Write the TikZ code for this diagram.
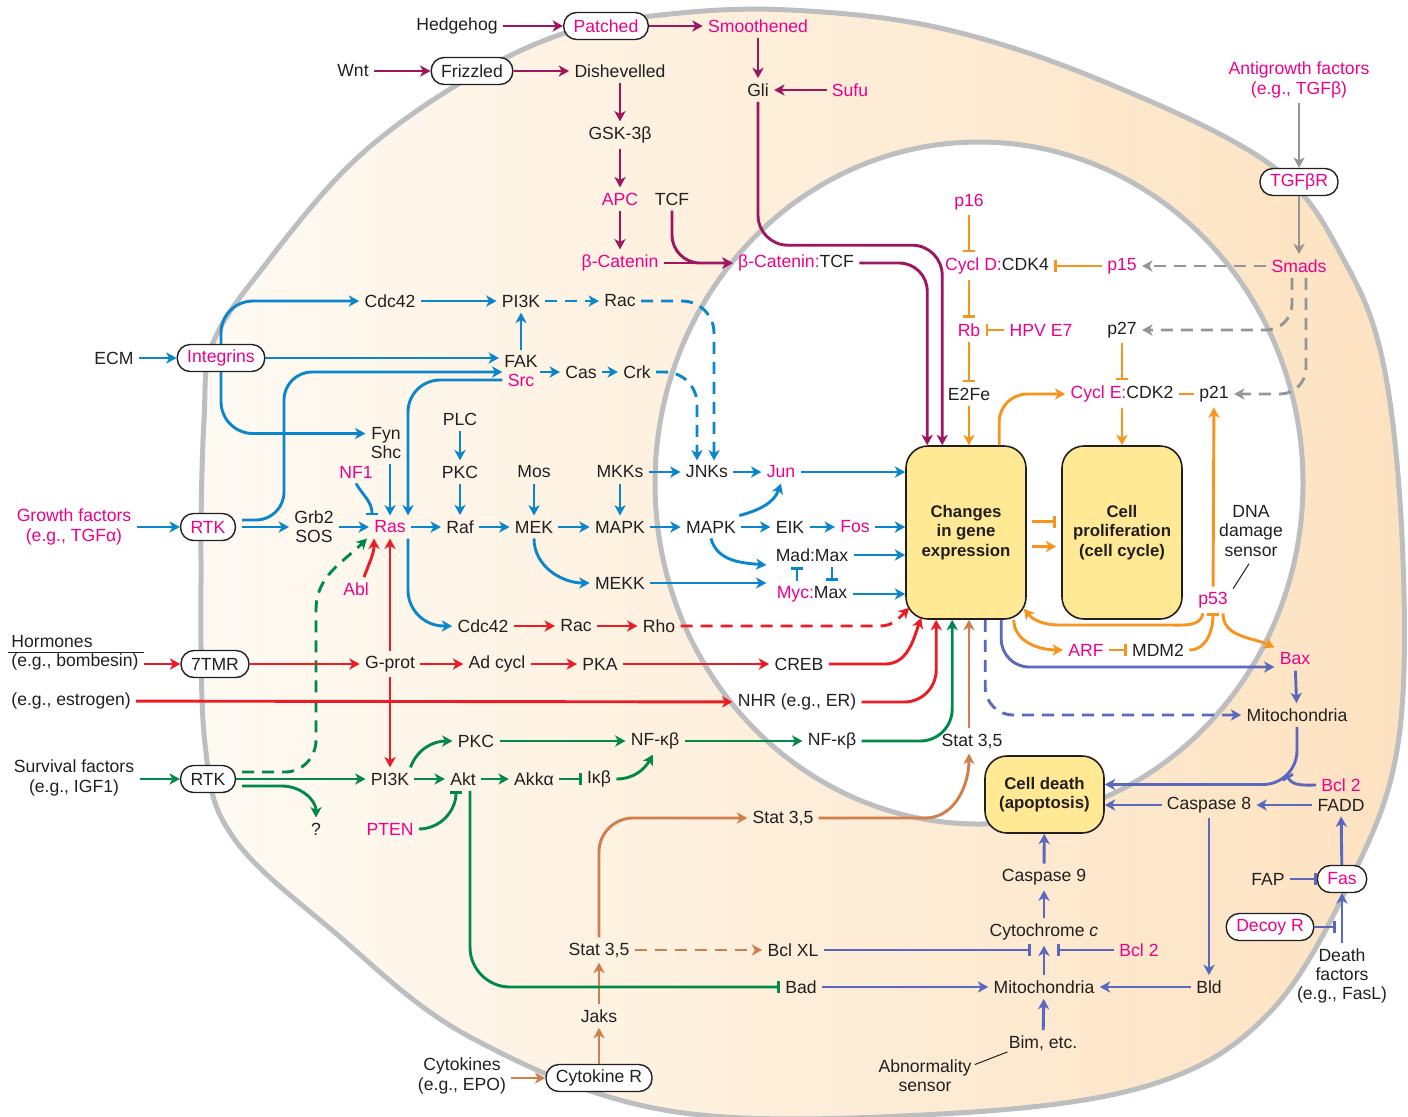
\documentclass[tikz,border=0pt]{standalone}
\usepackage{fontspec}
\setmainfont{Liberation Sans}
\usetikzlibrary{arrows.meta,calc}
\definecolor{txt}{HTML}{231F20}
\definecolor{mag}{HTML}{EC008C}
\definecolor{pur}{HTML}{9E1560}
\definecolor{blu}{HTML}{0A86CC}
\definecolor{redc}{HTML}{ED1C24}
\definecolor{grn}{HTML}{00894A}
\definecolor{org}{HTML}{F7941D}
\definecolor{gry}{HTML}{939598}
\definecolor{brn}{HTML}{D27E4C}
\definecolor{vio}{HTML}{5A68BE}
\definecolor{cellgray}{HTML}{BCBEC0}
\definecolor{bgL}{HTML}{FEFAF3}
\definecolor{bgR}{HTML}{FDE2C0}
\definecolor{yelbox}{HTML}{FFE994}
\newcommand\lblfont{\fontsize{8.8}{9.6}\selectfont}
\newcommand\boxfont{\fontsize{8.4}{9.6}\selectfont\bfseries}
\begin{document}
\begin{tikzpicture}[x=0.5pt,y=-0.5pt,
  >={Stealth[length=5.2pt,width=5.6pt,inset=1.5pt]},
  lbl/.style={font=\lblfont,text=txt,inner sep=2.5pt},
  mg/.style={lbl,text=mag},
  pill/.style={draw=txt,line width=0.7pt,fill=white,rounded corners=6.5pt,minimum height=13.5pt,inner xsep=5pt,inner ysep=1pt},
  ybox/.style={draw=txt,line width=0.8pt,fill=yelbox,rounded corners=11pt,align=center,font=\boxfont,text=txt,inner sep=0pt},
  inh/.style={-{Bar[width=6pt,line width=1.4pt]}},
  dsh/.style={dash pattern=on 6pt off 4pt}]
\useasboundingbox (0,0) rectangle (1408,1116);
% cell and nucleus
\draw[cellgray,line width=2.5pt,left color=bgL,right color=bgR] plot[smooth cycle,tension=0.6] coordinates {(205,744) (201,560) (204,420) (213,343) (265,265) (355,160) (460,83) (565,33) (670,14) (790,10) (940,28) (1100,80) (1271,165) (1345,262) (1385,372) (1403,560) (1398,744) (1355,871) (1271,1011) (1150,1085) (940,1114) (670,1111) (470,1037) (333,931) (233,837)};
\draw[cellgray,line width=2.5pt,fill=white] (979,483) ellipse [x radius=324,y radius=341];

% ---------- nodes ----------
\node[lbl] (hedge) at (457,26) {Hedgehog};
\node[mg,pill] (patched) at (606,26) {Patched};
\node[mg] (smooth) at (758,26) {Smoothened};
\node[lbl] (wnt) at (353,71) {Wnt};
\node[lbl,pill] (friz) at (472,71) {Frizzled};
\node[lbl] (dish) at (620,71) {Dishevelled};
\node[lbl] (gli) at (758,90) {Gli};
\node[mg] (sufu) at (850,90) {Sufu};
\node[lbl] (gsk) at (620,135) {GSK-3β};
\node[mg] (apc) at (620,199) {APC};
\node[lbl] (tcf) at (672,199) {TCF};
\node[mg] (bcat) at (620,263) {β-Catenin};
\node[lbl] (bcattcf) at (796,263) {\textcolor{mag}{β-Catenin:}TCF};

\node[mg,align=center] (anti) at (1299,80) {Antigrowth factors\\(e.g., TGFβ)};
\node[mg,pill] (tgfbr) at (1299,182) {TGFβR};
\node[mg] (smads) at (1299,266) {Smads};
\node[mg] (p16) at (969,202) {p16};
\node[lbl] (cycd) at (997,266) {\textcolor{mag}{Cycl D:}CDK4};
\node[mg] (p15) at (1122,266) {p15};
\node[mg] (rb) at (969,330) {Rb};
\node[mg] (hpv) at (1041,330) {HPV E7};
\node[lbl] (p27) at (1122,330) {p27};
\node[lbl] (e2fe) at (969,394) {E2Fe};
\node[lbl] (cyce) at (1122,394) {\textcolor{mag}{Cycl E:}CDK2};
\node[lbl] (p21) at (1214,394) {p21};

\node[ybox,minimum width=60pt,minimum height=86.5pt] (chg) at (966,532.5) {Changes\\in gene\\expression};
\node[ybox,minimum width=60pt,minimum height=86.5pt] (cpro) at (1122,532.5) {Cell\\proliferation\\(cell cycle)};
\node[lbl,align=center] (dna) at (1251,531) {DNA\\damage\\sensor};
\node[mg] (p53) at (1213,600) {p53};
\node[mg] (arf) at (1086,650) {ARF};
\node[lbl] (mdm2) at (1158,650) {MDM2};
\node[mg] (bax) at (1295,659) {Bax};
\node[lbl] (mito1) at (1297,715) {Mitochondria};

\node[ybox,minimum width=59.5pt,minimum height=38.5pt] (cdeath) at (1044.5,794.5) {Cell death\\(apoptosis)};
\node[mg] (bcl2a) at (1341,785) {Bcl 2};
\node[lbl] (casp8) at (1209,805) {Caspase 8};
\node[lbl] (fadd) at (1341,805) {FADD};
\node[lbl] (casp9) at (1044,877) {Caspase 9};
\node[lbl] (fap) at (1268,879) {FAP};
\node[mg,pill] (fas) at (1342,879) {Fas};
\node[mg,pill] (decoy) at (1270,927) {Decoy R};
\node[lbl,align=center] (death) at (1342,976) {Death\\factors\\(e.g., FasL)};
\node[lbl] (cytc) at (1044,932) {Cytochrome \textit{c}};
\node[mg] (bcl2b) at (1139,950) {Bcl 2};
\node[lbl] (mito2) at (1044,987) {Mitochondria};
\node[lbl] (bld) at (1209,987) {Bld};
\node[lbl] (bim) at (1043,1043) {Bim, etc.};
\node[lbl,align=center] (abn) at (925,1076) {Abnormality\\sensor};
\node[lbl] (bclxl) at (793,950) {Bcl XL};
\node[lbl] (bad) at (801,987) {Bad};

\node[lbl,align=center] (cytok) at (462,1076) {Cytokines\\(e.g., EPO)};
\node[lbl,pill] (cytr) at (599,1078) {Cytokine R};
\node[lbl] (jaks) at (599,1016) {Jaks};
\node[lbl] (stat1) at (599,950) {Stat 3,5};
\node[lbl] (stat2) at (783,818) {Stat 3,5};
\node[lbl] (stat3) at (972,741) {Stat 3,5};

\node[lbl,align=center] (surv) at (74,778) {Survival factors\\(e.g., IGF1)};
\node[lbl,pill] (rtk2) at (208,779) {RTK};
\node[lbl] (pi3k2) at (390,779) {PI3K};
\node[lbl] (akt) at (463,779) {Akt};
\node[lbl] (akka) at (534,779) {Akkα};
\node[lbl] (ikb) at (599,779) {Iκβ};
\node[lbl] (q) at (316,829) {?};
\node[mg] (pten) at (390,829) {PTEN};
\node[lbl] (pkc2) at (476,741) {PKC};
\node[lbl] (nfkb1) at (655,741) {NF-κβ};
\node[lbl] (nfkb2) at (832,741) {NF-κβ};

\node[lbl,anchor=west,align=left] (horm) at (6,652.5) {Hormones\\(e.g., bombesin)};
\node[lbl,pill] (tmr) at (215,664) {7TMR};
\node[lbl] (gprot) at (390,664) {G-prot};
\node[lbl] (adcycl) at (497,664) {Ad cycl};
\node[lbl] (pka) at (600,664) {PKA};
\node[lbl] (creb) at (799,664) {CREB};
\node[lbl,anchor=west] (estr) at (6,701) {(e.g., estrogen)};
\node[lbl] (nhr) at (797,702) {NHR (e.g., ER)};
\node[lbl] (cdc42b) at (483,626) {Cdc42};
\node[lbl] (rac2) at (576,626) {Rac};
\node[lbl] (rho) at (659,626) {Rho};
\node[mg] (abl) at (356,589) {Abl};

\node[lbl] (ecm) at (114,358) {ECM};
\node[mg,pill] (integ) at (221,358) {Integrins};
\node[lbl] (cdc42a) at (390,301) {Cdc42};
\node[lbl] (pi3k1) at (521,301) {PI3K};
\node[lbl] (rac1) at (620,301) {Rac};
\node[lbl] (fak) at (521,361) {FAK};
\node[mg] (src) at (521,380) {Src};
\node[lbl] (cas) at (581,372) {Cas};
\node[lbl] (crk) at (637,372) {Crk};
\node[lbl,align=center] (fyn) at (386,443) {Fyn\\Shc};
\node[lbl] (plc) at (460,419) {PLC};
\node[lbl] (pkc1) at (460,472) {PKC};
\node[lbl] (mos) at (534,472) {Mos};
\node[lbl] (mkks) at (620,472) {MKKs};
\node[lbl] (jnks) at (707,472) {JNKs};
\node[mg] (jun) at (781,472) {Jun};
\node[mg] (nf1) at (356,472) {NF1};
\node[mg,align=center] (growth) at (74,527) {Growth factors\\(e.g., TGFα)};
\node[mg,pill] (rtk1) at (208,527) {RTK};
\node[lbl,align=center] (grb2) at (314,527) {Grb2\\SOS};
\node[mg] (ras) at (390,527) {Ras};
\node[lbl] (raf) at (460,527) {Raf};
\node[lbl] (mek) at (534,527) {MEK};
\node[lbl] (mapk1) at (620,527) {MAPK};
\node[lbl] (mapk2) at (711,527) {MAPK};
\node[lbl] (eik) at (790,527) {EIK};
\node[mg] (fos) at (855,527) {Fos};
\node[lbl] (madmax) at (812,555) {Mad:Max};
\node[lbl] (mycmax) at (812,594) {\textcolor{mag}{Myc:}Max};
\node[lbl] (mekk) at (620,583) {MEKK};

\coordinate (bclhit) at (1287,776);
\coordinate (cbl) at (1031,950);
\coordinate (cbr) at (1057,950);
\coordinate (dbar) at (1336,927);

% thin label lines
\draw[txt,line width=0.6pt] ($(horm.west)+(2,0)$) -- (horm.east);
\draw[txt,line width=0.5pt] ($(dna.south)+(-2,2)$) -- ($(p53.north east)+(0,2)$);
\draw[txt,line width=0.5pt] ($(abn.north east)+(-2,10)$) -- ($(bim.south west)+(4,-4)$);

% ---------- connectors ----------
\begin{scope}[line width=1.45pt]
% Hedgehog / Wnt
\draw[pur,->] (hedge) -- (patched);
\draw[pur,->] (patched) -- (smooth);
\draw[pur,->] (wnt) -- (friz);
\draw[pur,->] (friz) -- (dish);
\draw[pur,->] (smooth) -- (gli);
\draw[pur,->] (sufu) -- (gli);
\draw[pur,->] (dish) -- (gsk);
\draw[pur,->] (gsk) -- (apc);
\draw[pur,->] (apc) -- (bcat);
\draw[pur,->] (bcat) -- (bcattcf);
\draw[pur,->,rounded corners=14pt] (tcf.south) |- (bcattcf.west);
\draw[pur,->,rounded corners=15pt] (gli.south) |- ($(chg.north west)+(37,-200)$) -- ($(chg.north west)+(37,0)$);
\draw[pur,->,rounded corners=14pt] (bcattcf.east) -| ($(chg.north west)+(22,0)$);
% antigrowth
\draw[gry,->] (anti) -- (tgfbr);
\draw[gry,->] (tgfbr) -- (smads);
\draw[gry,->,dsh] (smads) -- (p15);
\draw[gry,->,dsh,rounded corners=13pt] ($(smads.south)+(-7,0)$) |- (p27.east);
\draw[gry,->,dsh,rounded corners=13pt] ($(smads.south)+(7,0)$) |- (p21.east);
% cell cycle
\draw[org,inh] (p16) -- (p16 |- cycd.north);
\draw[org,inh] (p15) -- (cycd);
\draw[org,inh] (p16 |- cycd.south) -- (rb);
\draw[org,inh] (hpv) -- (rb);
\draw[org,inh] (rb) -- (e2fe);
\draw[org,->] (e2fe) -- (e2fe |- chg.north);
\draw[org,inh] (p27) -- (p27 |- cyce.north);
\draw[org] (p21) -- (cyce);
\draw[org,->,rounded corners=14pt] ($(chg.north west)+(94,0)$) |- (cyce.west);
\draw[org,->] (cyce) -- (cpro);
\draw[org,inh] ($(chg.east)+(5,-11)$) -- ($(cpro.west)+(-5,-11)$);
\draw[org,->] ($(chg.east)+(5,14)$) -- ($(cpro.west)+(-5,14)$);
\draw[org,->] (p53) -- (p21);
\draw[org,->] ($(p53.south)+(-10,0)$) to[out=-100,in=0] (1170,625) -- (1060,625) to[out=180,in=-50] ($(chg.south east)+(-3,-11)$);
\draw[org,->] ($(chg.south east)+(-13,0)$) to[out=-90,in=180] (arf.west);
\draw[org,inh] (arf) -- (mdm2);
\draw[org,inh] (mdm2.east) to[out=0,in=-90] (p53.south);
\draw[org,->] ($(p53.south)+(10,0)$) to[out=-90,in=155] (bax.north west);
% apoptosis
\draw[vio,->,rounded corners=14pt] ($(chg.south west)+(96,0)$) |- ($(bax.west)+(0,8)$);
\draw[vio,->,dsh,rounded corners=14pt] ($(chg.south west)+(80,0)$) |- (mito1.west);
\draw[vio,->] (bax) -- (mito1);
\draw[vio,->,rounded corners=17pt] (mito1.south) |- ($(cdeath.east)+(0,-10)$);
\draw[vio,inh] (bcl2a.west) to[out=180,in=-60] (bclhit);
\draw[vio,->] (fadd) -- (casp8);
\draw[vio,->] (casp8) -- (cdeath.east |- casp8);
\draw[vio,->] (casp8) -- (bld);
\draw[vio,->] (bld) -- (mito2);
\draw[vio,->] (mito2) -- (cytc);
\draw[vio,->] (cytc) -- (casp9);
\draw[vio,->] (casp9) -- (cdeath);
\draw[vio,->] (bim) -- (mito2);
\draw[vio,inh] (bclxl) -- (cbl);
\draw[vio,inh] (bcl2b) -- (cbr);
\draw[vio,->] (bad) -- (mito2);
\draw[vio,->] (fas) -- (fadd);
\draw[vio,inh] (fap) -- (fas);
\draw[vio,->] (death) -- (fas);
\draw[vio,inh] (decoy) -- (dbar);
% cytokines
\draw[brn,->] (cytok.east |- cytr) -- (cytr);
\draw[brn,->] (cytr) -- (jaks);
\draw[brn,->] (jaks) -- (stat1);
\draw[brn,->,dsh] (stat1) -- (bclxl);
\draw[brn,->,rounded corners=17pt] (stat1.north) |- (stat2.west);
\draw[brn,->] (stat2.east) -- (925,818) to[out=0,in=-90] ($(stat3.south)+(-3,0)$);
\draw[brn,->] ($(stat3.north)+(-3,0)$) -- ($(stat3.north |- chg.south)+(-3,0)$);
% survival
\draw[grn,->] (surv.east |- rtk2) -- (rtk2);
\draw[grn,->] (rtk2) -- (pi3k2);
\draw[grn,->] ($(rtk2.east)+(6,7)$) -- (282,786) to[out=0,in=90] (q.north);
\draw[grn,->,dsh] ($(rtk2.east)+(6,-7)$) -- (285,772) to[out=0,in=-90] (316,740) -- (316,610) to[out=90,in=-135] ($(ras.south west)+(-2,0)$);
\draw[grn,->] (pi3k2) -- (akt);
\draw[grn,->] (akt) -- (akka);
\draw[grn,inh] (akka) -- (ikb);
\draw[grn,->] (ikb.east) to[out=0,in=-120] ($(nfkb1.south)+(-2,0)$);
\draw[grn,->] ($(pi3k2.north east)+(-4,0)$) to[out=70,in=180] (pkc2.west);
\draw[grn,->] (pkc2) -- (nfkb1);
\draw[grn,->] (nfkb1) -- (nfkb2);
\draw[grn,->,rounded corners=16pt] (nfkb2.east) -| ($(chg.south west)+(47,0)$);
\draw[grn,inh] (pten.east) to[out=0,in=-90] ($(akt.south)+(-7,0)$);
\draw[grn,inh,rounded corners=20pt] ($(akt.south)+(7,0)$) |- (bad.west);
% hormones
\draw[redc,->] (horm.east |- tmr) -- (tmr);
\draw[redc,->] (tmr) -- (gprot);
\draw[redc,->] (gprot) -- (adcycl);
\draw[redc,->] (adcycl) -- (pka);
\draw[redc,->] (pka) -- (creb);
\draw[redc,->] (gprot) -- (ras);
\draw[redc,->] (gprot) -- (pi3k2);
\draw[redc,->] (creb.east) -- (885,664) to[out=0,in=-110] ($(chg.south west)+(16,-2)$);
\draw[redc,->] (estr) -- (nhr);
\draw[redc,->,rounded corners=16pt] (nhr.east) -| ($(chg.south west)+(31,0)$);
\draw[redc,->] (cdc42b) -- (rac2);
\draw[redc,->] (rac2) -- (rho);
\draw[redc,->,dsh] (rho.east) -- (880,626) to[out=0,in=-135] ($(chg.south west)+(4,-12)$);
\draw[redc,->] ($(abl.north)+(8,0)$) to[out=70,in=-90] ($(ras.south)+(-16,0)$);
% growth factors / integrins
\draw[blu,->] (ecm) -- (integ);
\draw[blu,->] (integ.east) -- (integ.east -| fak.west);
\draw[blu,->,rounded corners=16pt] (integ.north) |- (cdc42a.west);
\draw[blu,->,rounded corners=16pt] (integ.south) |- ($(fyn.west)+(0,-9.5)$);
\draw[blu,->] (cdc42a) -- (pi3k1);
\draw[blu,->] (fak) -- (pi3k1);
\draw[blu,->,dsh] (pi3k1) -- (rac1);
\draw[blu,->,dsh,rounded corners=16pt] (rac1.east) -| ($(jnks.north)+(7,0)$);
\draw[blu,->,dsh,rounded corners=16pt] (crk.east) -| ($(jnks.north)+(-10,0)$);
\draw[blu,->] (src.east |- cas) -- (cas);
\draw[blu,->] (cas) -- (crk);
\draw[blu,->,rounded corners=14pt] ($(rtk1.east)+(6,-7)$) -| (284,372) -- ($(src.west)+(0,-8)$);
\draw[blu,->,rounded corners=16pt] (src.west) -| ($(ras.north)+(18,0)$);
\draw[blu,->] (growth.east |- rtk1) -- (rtk1);
\draw[blu,->] ($(rtk1.east)+(6,0)$) -- (grb2);
\draw[blu,->] (grb2) -- (ras);
\draw[blu,->] (fyn.south -| ras.north) -- (ras.north);
\draw[blu,inh] (nf1.south) to[out=-60,in=90] ($(ras.north)+(-18,0)$);
\draw[blu,->] (ras) -- (raf);
\draw[blu,->] (plc) -- (pkc1);
\draw[blu,->] (pkc1) -- (raf);
\draw[blu,->] (raf) -- (mek);
\draw[blu,->] (mos) -- (mek);
\draw[blu,->] (mek) -- (mapk1);
\draw[blu,->] (mkks) -- (mapk1);
\draw[blu,->] (mapk1) -- (mapk2);
\draw[blu,->] (mkks) -- (jnks);
\draw[blu,->] (jnks) -- (jun);
\draw[blu,->] (jun.east) -- (jun -| chg.west);
\draw[blu,->] ($(mapk2.north east)+(-2,0)$) to[out=15,in=-110] (jun.south);
\draw[blu,->] (mapk2) -- (eik);
\draw[blu,->] (eik) -- (fos);
\draw[blu,->] (fos.east) -- (fos -| chg.west);
\draw[blu,->] (mapk2.south) to[out=-75,in=175] ($(madmax.west)+(-4,10)$);
\draw[blu,->] (mek.south) to[out=-90,in=180] (mekk.west);
\draw[blu,->] (mekk.east) -- ($(mekk -| madmax.west)+(-4,0)$);
\draw[blu,->] (madmax.east) -- (madmax -| chg.west);
\draw[blu,->] (mycmax.east) -- (mycmax -| chg.west);
\draw[blu,inh] ($(mycmax.north)+(-15,0)$) -- ($(madmax.south)+(-15,0)$);
\draw[blu,inh] ($(madmax.south)+(20,0)$) -- ($(mycmax.north)+(20,0)$);
\draw[blu,->,rounded corners=18pt] ($(ras.south)+(18,0)$) |- (cdc42b.west);
\end{scope}
\end{tikzpicture}
\end{document}
